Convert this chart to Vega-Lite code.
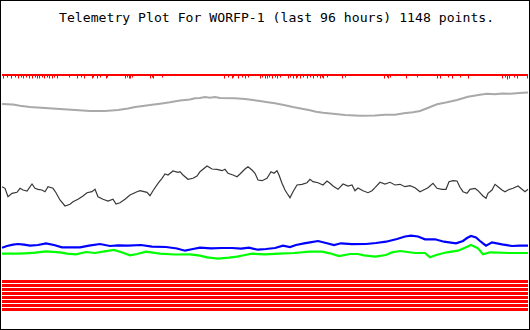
{
  "$schema": "https://vega.github.io/schema/vega-lite/v6.json",
  "width": 530,
  "height": 330,
  "padding": 0,
  "autosize": {"type": "none"},
  "background": "white",
  "config": {"view": {"stroke": "black", "strokeWidth": 2}},
  "title": {
    "text": "Telemetry Plot For WORFP-1 (last 96 hours) 1148 points.",
    "anchor": "start",
    "frame": "group",
    "orient": "top",
    "offset": -25,
    "dx": 59,
    "font": "DejaVu Sans Mono",
    "fontSize": 13.15,
    "fontWeight": "normal",
    "color": "black"
  },
  "data": {"values": [
    {"s":"gray","t":0,"v":226},{"s":"gray","t":11,"v":225.5},{"s":"gray","t":18,"v":224.3},{"s":"gray","t":28,"v":223},{"s":"gray","t":43,"v":222},{"s":"gray","t":58,"v":221},{"s":"gray","t":73,"v":220},{"s":"gray","t":88,"v":219},{"s":"gray","t":103,"v":219},{"s":"gray","t":116,"v":220},{"s":"gray","t":126,"v":221.5},{"s":"gray","t":133,"v":223},{"s":"gray","t":141,"v":224},{"s":"gray","t":148,"v":225},{"s":"gray","t":158,"v":226.3},{"s":"gray","t":168,"v":227.7},{"s":"gray","t":178,"v":229.5},{"s":"gray","t":188,"v":230.5},{"s":"gray","t":193,"v":231.8},{"s":"gray","t":198,"v":232},{"s":"gray","t":203,"v":233},{"s":"gray","t":208,"v":232.3},{"s":"gray","t":213,"v":233},{"s":"gray","t":218,"v":232},{"s":"gray","t":233,"v":231.7},{"s":"gray","t":243,"v":231},{"s":"gray","t":251,"v":230},{"s":"gray","t":258,"v":229},{"s":"gray","t":264,"v":228},{"s":"gray","t":273,"v":226.7},{"s":"gray","t":283,"v":224.7},{"s":"gray","t":291,"v":223},{"s":"gray","t":300,"v":221.3},{"s":"gray","t":308,"v":219.7},{"s":"gray","t":314,"v":218.3},{"s":"gray","t":321,"v":217.3},{"s":"gray","t":331,"v":216.3},{"s":"gray","t":343,"v":215},{"s":"gray","t":358,"v":214.3},{"s":"gray","t":373,"v":214.5},{"s":"gray","t":383,"v":215.3},{"s":"gray","t":393,"v":215.3},{"s":"gray","t":402,"v":216.7},{"s":"gray","t":411,"v":217.7},{"s":"gray","t":418,"v":219},{"s":"gray","t":425,"v":221.7},{"s":"gray","t":435,"v":225.7},{"s":"gray","t":445,"v":227.7},{"s":"gray","t":455,"v":230},{"s":"gray","t":466,"v":233.3},{"s":"gray","t":478,"v":235.3},{"s":"gray","t":485,"v":236.2},{"s":"gray","t":493,"v":235.7},{"s":"gray","t":500,"v":236.5},{"s":"gray","t":508,"v":236.3},{"s":"gray","t":521,"v":237.3},{"s":"gray","t":526,"v":237.5},

    {"s":"black","t":0,"v":143.3},{"s":"black","t":3,"v":141.7},{"s":"black","t":6,"v":133.3},{"s":"black","t":10,"v":136.7},{"s":"black","t":15,"v":137.7},{"s":"black","t":18,"v":141.7},{"s":"black","t":21,"v":140},{"s":"black","t":25,"v":139},{"s":"black","t":30,"v":146},{"s":"black","t":33,"v":141.7},{"s":"black","t":36,"v":140.7},{"s":"black","t":40,"v":140},{"s":"black","t":43,"v":138.3},{"s":"black","t":46,"v":143.3},{"s":"black","t":51,"v":141.7},{"s":"black","t":54,"v":137.3},{"s":"black","t":58,"v":130},{"s":"black","t":63,"v":124},{"s":"black","t":68,"v":125.7},{"s":"black","t":71,"v":128.3},{"s":"black","t":76,"v":130.7},{"s":"black","t":81,"v":134},{"s":"black","t":85,"v":137.3},{"s":"black","t":90,"v":138.3},{"s":"black","t":93,"v":140.7},{"s":"black","t":96,"v":133.3},{"s":"black","t":101,"v":130.7},{"s":"black","t":106,"v":129},{"s":"black","t":111,"v":130.7},{"s":"black","t":114,"v":126},{"s":"black","t":118,"v":127.3},{"s":"black","t":123,"v":130.7},{"s":"black","t":128,"v":135},{"s":"black","t":135,"v":138.3},{"s":"black","t":138,"v":139.3},{"s":"black","t":145,"v":137.7},{"s":"black","t":148,"v":134.3},{"s":"black","t":151,"v":139.3},{"s":"black","t":156,"v":146.7},{"s":"black","t":160,"v":151.7},{"s":"black","t":163,"v":156},{"s":"black","t":166,"v":155},{"s":"black","t":171,"v":159},{"s":"black","t":176,"v":157.7},{"s":"black","t":178,"v":158.3},{"s":"black","t":181,"v":155},{"s":"black","t":186,"v":150.7},{"s":"black","t":191,"v":151.7},{"s":"black","t":195,"v":154},{"s":"black","t":198,"v":158.3},{"s":"black","t":205,"v":164},{"s":"black","t":210,"v":161},{"s":"black","t":215,"v":160.7},{"s":"black","t":220,"v":159.3},{"s":"black","t":223,"v":160.7},{"s":"black","t":226,"v":156.7},{"s":"black","t":231,"v":155},{"s":"black","t":235,"v":153.3},{"s":"black","t":238,"v":156},{"s":"black","t":243,"v":161},{"s":"black","t":246,"v":163.3},{"s":"black","t":250,"v":160},{"s":"black","t":253,"v":156.7},{"s":"black","t":256,"v":150},{"s":"black","t":260,"v":149.3},{"s":"black","t":265,"v":151.7},{"s":"black","t":269,"v":158.3},{"s":"black","t":272,"v":156.7},{"s":"black","t":275,"v":159.3},{"s":"black","t":277,"v":155},{"s":"black","t":280,"v":146.7},{"s":"black","t":283,"v":140},{"s":"black","t":285,"v":136.7},{"s":"black","t":288,"v":132.3},{"s":"black","t":291,"v":138.3},{"s":"black","t":295,"v":145},{"s":"black","t":300,"v":145.7},{"s":"black","t":305,"v":147.3},{"s":"black","t":308,"v":150.7},{"s":"black","t":311,"v":148.3},{"s":"black","t":316,"v":147.3},{"s":"black","t":321,"v":145},{"s":"black","t":325,"v":149},{"s":"black","t":328,"v":146.7},{"s":"black","t":331,"v":144},{"s":"black","t":336,"v":140.7},{"s":"black","t":341,"v":146},{"s":"black","t":346,"v":144},{"s":"black","t":350,"v":145},{"s":"black","t":353,"v":139.3},{"s":"black","t":356,"v":142},{"s":"black","t":361,"v":139.3},{"s":"black","t":366,"v":137.3},{"s":"black","t":370,"v":139.3},{"s":"black","t":373,"v":142.3},{"s":"black","t":378,"v":147.7},{"s":"black","t":383,"v":146},{"s":"black","t":388,"v":147.7},{"s":"black","t":393,"v":145},{"s":"black","t":398,"v":145.7},{"s":"black","t":403,"v":143.3},{"s":"black","t":408,"v":144.3},{"s":"black","t":413,"v":142.3},{"s":"black","t":418,"v":138.3},{"s":"black","t":423,"v":140.7},{"s":"black","t":426,"v":142.3},{"s":"black","t":431,"v":146.7},{"s":"black","t":435,"v":141.7},{"s":"black","t":440,"v":140.7},{"s":"black","t":444,"v":140.7},{"s":"black","t":447,"v":148.3},{"s":"black","t":451,"v":149.3},{"s":"black","t":455,"v":149},{"s":"black","t":458,"v":142.7},{"s":"black","t":461,"v":138.3},{"s":"black","t":465,"v":136.7},{"s":"black","t":468,"v":140.7},{"s":"black","t":473,"v":141.7},{"s":"black","t":476,"v":139.3},{"s":"black","t":481,"v":134},{"s":"black","t":484,"v":131.7},{"s":"black","t":486,"v":136.7},{"s":"black","t":490,"v":140},{"s":"black","t":493,"v":145.7},{"s":"black","t":496,"v":143.3},{"s":"black","t":500,"v":140},{"s":"black","t":503,"v":138.3},{"s":"black","t":506,"v":140},{"s":"black","t":511,"v":141.7},{"s":"black","t":516,"v":144},{"s":"black","t":520,"v":140.7},{"s":"black","t":523,"v":138.3},{"s":"black","t":526,"v":140.7},

    {"s":"blue","t":0,"v":82.3},{"s":"blue","t":5,"v":84},{"s":"blue","t":11,"v":85.3},{"s":"blue","t":16,"v":86},{"s":"blue","t":22,"v":85.3},{"s":"blue","t":28,"v":84.3},{"s":"blue","t":36,"v":85},{"s":"blue","t":44,"v":86.7},{"s":"blue","t":52,"v":85},{"s":"blue","t":60,"v":82.7},{"s":"blue","t":70,"v":82.7},{"s":"blue","t":78,"v":82.7},{"s":"blue","t":87,"v":84.3},{"s":"blue","t":98,"v":86},{"s":"blue","t":108,"v":84},{"s":"blue","t":116,"v":84.7},{"s":"blue","t":126,"v":84.3},{"s":"blue","t":139,"v":85},{"s":"blue","t":150,"v":83.3},{"s":"blue","t":164,"v":83},{"s":"blue","t":175,"v":81.5},{"s":"blue","t":183,"v":79.3},{"s":"blue","t":191,"v":81},{"s":"blue","t":198,"v":82.3},{"s":"blue","t":209,"v":81.7},{"s":"blue","t":220,"v":82},{"s":"blue","t":230,"v":82},{"s":"blue","t":239,"v":81.3},{"s":"blue","t":247,"v":82.3},{"s":"blue","t":256,"v":80.3},{"s":"blue","t":264,"v":81},{"s":"blue","t":273,"v":82},{"s":"blue","t":281,"v":84.3},{"s":"blue","t":288,"v":83},{"s":"blue","t":294,"v":85},{"s":"blue","t":302,"v":86.7},{"s":"blue","t":308,"v":87.7},{"s":"blue","t":316,"v":89},{"s":"blue","t":325,"v":86.7},{"s":"blue","t":332,"v":85},{"s":"blue","t":339,"v":86.7},{"s":"blue","t":350,"v":85.8},{"s":"blue","t":364,"v":86},{"s":"blue","t":374,"v":87},{"s":"blue","t":384,"v":88.3},{"s":"blue","t":395,"v":91},{"s":"blue","t":403,"v":93.5},{"s":"blue","t":409,"v":94.3},{"s":"blue","t":416,"v":93.5},{"s":"blue","t":423,"v":90.7},{"s":"blue","t":433,"v":90.7},{"s":"blue","t":442,"v":88.3},{"s":"blue","t":454,"v":86.7},{"s":"blue","t":461,"v":89},{"s":"blue","t":465,"v":92},{"s":"blue","t":469,"v":94},{"s":"blue","t":474,"v":92.5},{"s":"blue","t":478,"v":89},{"s":"blue","t":481,"v":86.7},{"s":"blue","t":484,"v":84.3},{"s":"blue","t":490,"v":87.7},{"s":"blue","t":500,"v":85.7},{"s":"blue","t":510,"v":84},{"s":"blue","t":518,"v":84.3},{"s":"blue","t":526,"v":84.3},

    {"s":"green","t":0,"v":76.3},{"s":"green","t":15,"v":76.3},{"s":"green","t":23,"v":76.7},{"s":"green","t":33,"v":77.3},{"s":"green","t":44,"v":78.7},{"s":"green","t":58,"v":77.7},{"s":"green","t":65,"v":76.3},{"s":"green","t":74,"v":75.7},{"s":"green","t":84,"v":78},{"s":"green","t":93,"v":77},{"s":"green","t":101,"v":78.3},{"s":"green","t":112,"v":80},{"s":"green","t":121,"v":77.3},{"s":"green","t":128,"v":74.7},{"s":"green","t":135,"v":76},{"s":"green","t":144,"v":78.3},{"s":"green","t":158,"v":76.3},{"s":"green","t":173,"v":75.5},{"s":"green","t":188,"v":75.7},{"s":"green","t":198,"v":74.3},{"s":"green","t":205,"v":72.7},{"s":"green","t":216,"v":71.3},{"s":"green","t":227,"v":72.3},{"s":"green","t":235,"v":73.3},{"s":"green","t":243,"v":75},{"s":"green","t":250,"v":76.3},{"s":"green","t":263,"v":75.7},{"s":"green","t":277,"v":76.3},{"s":"green","t":292,"v":77},{"s":"green","t":308,"v":78.3},{"s":"green","t":320,"v":78.3},{"s":"green","t":328,"v":76.7},{"s":"green","t":337,"v":74},{"s":"green","t":348,"v":76},{"s":"green","t":356,"v":76},{"s":"green","t":362,"v":74.7},{"s":"green","t":373,"v":73.3},{"s":"green","t":384,"v":75},{"s":"green","t":390,"v":77.7},{"s":"green","t":398,"v":79},{"s":"green","t":413,"v":77},{"s":"green","t":423,"v":77},{"s":"green","t":428,"v":72.7},{"s":"green","t":435,"v":75.3},{"s":"green","t":445,"v":77.7},{"s":"green","t":456,"v":79.3},{"s":"green","t":463,"v":82.3},{"s":"green","t":469,"v":85},{"s":"green","t":476,"v":81.7},{"s":"green","t":481,"v":75.7},{"s":"green","t":488,"v":77.7},{"s":"green","t":508,"v":77},{"s":"green","t":526,"v":77},

    {"s":"top","t":0,"v":255},{"s":"top","t":526,"v":255},

    {"s":"b1","t":0,"v":48.5},{"s":"b1","t":526,"v":48.5},
    {"s":"b2","t":0,"v":44.5},{"s":"b2","t":526,"v":44.5},
    {"s":"b3","t":0,"v":40.5},{"s":"b3","t":526,"v":40.5},
    {"s":"b4","t":0,"v":36.5},{"s":"b4","t":526,"v":36.5},
    {"s":"b5","t":0,"v":32.5},{"s":"b5","t":526,"v":32.5},
    {"s":"b6","t":0,"v":28.5},{"s":"b6","t":526,"v":28.5},
    {"s":"b7","t":0,"v":24.5},{"s":"b7","t":526,"v":24.5},
    {"s":"b8","t":0,"v":20.5},{"s":"b8","t":526,"v":20.5},

    {"s":"spike","t":1.5,"v":254,"lo":251.5},{"s":"spike","t":5.5,"v":254,"lo":252.5},{"s":"spike","t":9.5,"v":254,"lo":251.5},{"s":"spike","t":13.5,"v":254,"lo":252.5},{"s":"spike","t":16.5,"v":254,"lo":251.5},{"s":"spike","t":19.5,"v":254,"lo":252.5},{"s":"spike","t":21.5,"v":254,"lo":251.5},{"s":"spike","t":24.5,"v":254,"lo":252.5},{"s":"spike","t":27.5,"v":254,"lo":251.5},{"s":"spike","t":30.5,"v":254,"lo":251.5},{"s":"spike","t":33.5,"v":254,"lo":252.5},{"s":"spike","t":35.5,"v":254,"lo":251.5},{"s":"spike","t":37.5,"v":254,"lo":251.5},{"s":"spike","t":40.5,"v":254,"lo":252.5},{"s":"spike","t":42.5,"v":254,"lo":251.5},{"s":"spike","t":45.5,"v":254,"lo":252.5},{"s":"spike","t":47.5,"v":254,"lo":251.5},{"s":"spike","t":50.5,"v":254,"lo":251.5},{"s":"spike","t":52.5,"v":254,"lo":252.5},{"s":"spike","t":55.5,"v":254,"lo":251.5},{"s":"spike","t":67.5,"v":254,"lo":252.5},{"s":"spike","t":75.5,"v":254,"lo":251.5},{"s":"spike","t":79.5,"v":254,"lo":252.5},{"s":"spike","t":82.5,"v":254,"lo":251.5},{"s":"spike","t":90.5,"v":254,"lo":251.5},{"s":"spike","t":91.5,"v":254,"lo":252.5},{"s":"spike","t":95.5,"v":254,"lo":251.5},{"s":"spike","t":98.5,"v":254,"lo":252.5},{"s":"spike","t":104.5,"v":254,"lo":251.5},{"s":"spike","t":105.5,"v":254,"lo":252.5},{"s":"spike","t":123.5,"v":254,"lo":251.5},{"s":"spike","t":125.5,"v":254,"lo":252.5},{"s":"spike","t":127.5,"v":254,"lo":251.5},{"s":"spike","t":128.5,"v":254,"lo":251.5},{"s":"spike","t":130.5,"v":254,"lo":252.5},{"s":"spike","t":148.5,"v":254,"lo":251.5},{"s":"spike","t":150.5,"v":254,"lo":252.5},{"s":"spike","t":151.5,"v":254,"lo":251.5},{"s":"spike","t":160.5,"v":254,"lo":252.5},
    {"s":"spike","t":222.5,"v":254,"lo":251.5},{"s":"spike","t":226.5,"v":254,"lo":252.5},{"s":"spike","t":230.5,"v":254,"lo":251.5},{"s":"spike","t":231.5,"v":254,"lo":252.5},{"s":"spike","t":236.5,"v":254,"lo":251.5},{"s":"spike","t":240.5,"v":254,"lo":252.5},{"s":"spike","t":243.5,"v":254,"lo":251.5},{"s":"spike","t":246.5,"v":254,"lo":252.5},{"s":"spike","t":258.5,"v":254,"lo":251.5},{"s":"spike","t":260.5,"v":254,"lo":252.5},{"s":"spike","t":263.5,"v":254,"lo":251.5},{"s":"spike","t":265.5,"v":254,"lo":251.5},{"s":"spike","t":267.5,"v":254,"lo":252.5},{"s":"spike","t":270.5,"v":254,"lo":251.5},{"s":"spike","t":273.5,"v":254,"lo":252.5},{"s":"spike","t":275.5,"v":254,"lo":251.5},{"s":"spike","t":278.5,"v":254,"lo":252.5},{"s":"spike","t":286.5,"v":254,"lo":251.5},{"s":"spike","t":288.5,"v":254,"lo":252.5},{"s":"spike","t":291.5,"v":254,"lo":251.5},{"s":"spike","t":294.5,"v":254,"lo":251.5},{"s":"spike","t":295.5,"v":254,"lo":252.5},{"s":"spike","t":298.5,"v":254,"lo":251.5},{"s":"spike","t":301.5,"v":254,"lo":252.5},{"s":"spike","t":305.5,"v":254,"lo":251.5},{"s":"spike","t":308.5,"v":254,"lo":252.5},{"s":"spike","t":311.5,"v":254,"lo":251.5},{"s":"spike","t":315.5,"v":254,"lo":252.5},{"s":"spike","t":318.5,"v":254,"lo":251.5},{"s":"spike","t":320.5,"v":254,"lo":252.5},{"s":"spike","t":321.5,"v":254,"lo":251.5},{"s":"spike","t":325.5,"v":254,"lo":252.5},{"s":"spike","t":340.5,"v":254,"lo":251.5},{"s":"spike","t":343.5,"v":254,"lo":252.5},
    {"s":"spike","t":382.5,"v":254,"lo":251.5},{"s":"spike","t":385.5,"v":254,"lo":252.5},{"s":"spike","t":386.5,"v":254,"lo":251.5},{"s":"spike","t":388.5,"v":254,"lo":252.5},{"s":"spike","t":404.5,"v":254,"lo":251.5},{"s":"spike","t":415.5,"v":254,"lo":252.5},{"s":"spike","t":435.5,"v":254,"lo":251.5},{"s":"spike","t":438.5,"v":254,"lo":251.5},{"s":"spike","t":446.5,"v":254,"lo":252.5},{"s":"spike","t":450.5,"v":254,"lo":251.5},{"s":"spike","t":458.5,"v":254,"lo":252.5},{"s":"spike","t":466.5,"v":254,"lo":251.5},{"s":"spike","t":500.5,"v":254,"lo":251.5},{"s":"spike","t":503.5,"v":254,"lo":252.5},{"s":"spike","t":505.5,"v":254,"lo":250.5},{"s":"spike","t":507.5,"v":254,"lo":251.5},{"s":"spike","t":512.5,"v":254,"lo":252.5},{"s":"spike","t":515.5,"v":254,"lo":251.5},{"s":"spike","t":525.5,"v":254,"lo":251.5}
  ]},
  "encoding": {
    "x": {"field": "t", "type": "quantitative", "scale": {"domain": [-2, 528], "nice": false, "zero": false}, "axis": null},
    "y": {"field": "v", "type": "quantitative", "scale": {"domain": [0, 330], "nice": false, "zero": false}, "axis": null}
  },
  "layer": [
    {"transform": [{"filter": "datum.s === 'top'"}], "mark": {"type": "line", "color": "#ff0000", "strokeWidth": 2}},
    {"transform": [{"filter": "datum.s === 'spike'"}], "mark": {"type": "rule", "color": "#ff0000", "strokeWidth": 1}, "encoding": {"y2": {"field": "lo"}}},
    {"transform": [{"filter": "datum.s === 'gray'"}], "mark": {"type": "line", "color": "#a9a9a9", "strokeWidth": 2}},
    {"transform": [{"filter": "datum.s === 'black'"}], "mark": {"type": "line", "color": "#383838", "strokeWidth": 1.2}},
    {"transform": [{"filter": "datum.s === 'green'"}], "mark": {"type": "line", "color": "#00ff00", "strokeWidth": 2.2}},
    {"transform": [{"filter": "datum.s === 'blue'"}], "mark": {"type": "line", "color": "#0000ff", "strokeWidth": 2.2}},
    {"transform": [{"filter": {"field": "s", "oneOf": ["b1","b2","b3","b4","b5","b6","b7","b8"]}}], "mark": {"type": "line", "color": "#ff0000", "strokeWidth": 3}, "encoding": {"detail": {"field": "s"}}}
  ]
}
